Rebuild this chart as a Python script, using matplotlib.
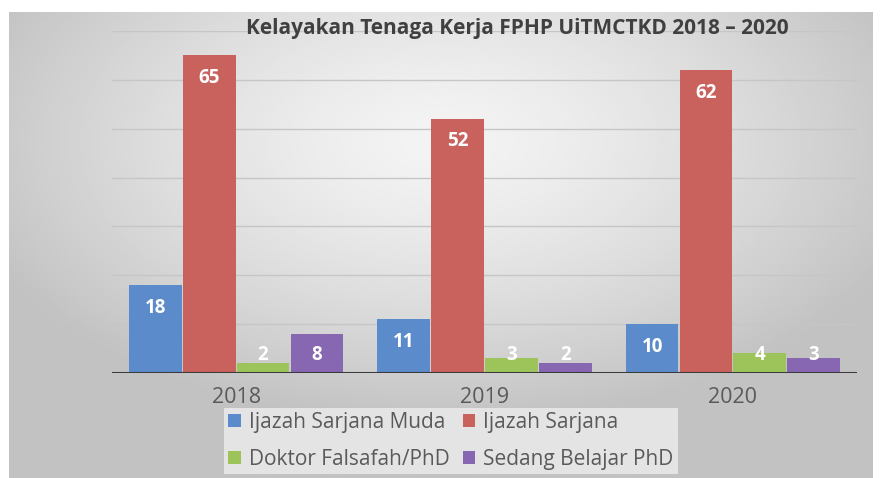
import matplotlib.pyplot as plt
import numpy as np
from matplotlib.patches import Patch

years = ["2018", "2019", "2020"]
series_names = [
    "Ijazah Sarjana Muda",
    "Ijazah Sarjana",
    "Doktor Falsafah/PhD",
    "Sedang Belajar PhD",
]
sarjana_muda = [18, 11, 10]
sarjana = [65, 52, 62]
phd = [2, 3, 4]
belajar_phd = [8, 2, 3]

colors = ["#5b8bcb", "#c9615d", "#9cc45a", "#8766b2"]
title = "Kelayakan Tenaga Kerja FPHP UiTMCTKD 2018 \u2013 2020"

plt.rcParams["font.family"] = ["Open Sans", "DejaVu Sans"]

fig = plt.figure(figsize=(8.81, 4.78), dpi=100)
fig.patch.set_facecolor("white")

# gradient panel behind the chart
bg = fig.add_axes([9 / 881, 0, 864 / 881, 466 / 478])
bg.set_axis_off()
yy, xx = np.mgrid[-1:1:200j, -1:1:300j]
dist = np.sqrt((xx * 0.95) ** 2 + ((yy + 0.45) * 0.9) ** 2)
shade = np.clip(0.955 - 0.17 * dist ** 1.4, 0.76, 1.0)
bg.imshow(shade, cmap="gray", vmin=0, vmax=1, aspect="auto",
          extent=[0, 1, 0, 1], origin="upper")
bg.set_xlim(0, 1)
bg.set_ylim(0, 1)

ax = fig.add_axes([112 / 881, 1 - 373 / 478, 745 / 881, 342 / 478])
ax.patch.set_alpha(0)

x = np.arange(len(years))
width = 0.212
step = 0.2166
all_values = [sarjana_muda, sarjana, phd, belajar_phd]

for i, (vals, color, name) in enumerate(zip(all_values, colors, series_names)):
    pos = x + (i - 1.5) * step
    bars = ax.bar(pos, vals, width, color=color, label=name, zorder=3)
    for bar, v in zip(bars, vals):
        ax.text(
            bar.get_x() + bar.get_width() / 2,
            max(v - 4.6, 3.7),
            str(v),
            ha="center",
            va="center",
            color="white",
            fontsize=13.5,
            fontweight="bold",
            zorder=4,
        )

ax.set_xlim(-0.5, 2.5)
ax.set_ylim(0, 70)
ax.set_yticks(range(10, 71, 10))
ax.yaxis.grid(True, color="#c6c6c6", linewidth=1, zorder=0)
ax.tick_params(axis="y", left=False, labelleft=False)
ax.axhline(0, color="#3a3a3a", linewidth=2.2, zorder=5)
for side in ["top", "right", "left", "bottom"]:
    ax.spines[side].set_visible(False)

ax.set_xticks(x)
ax.set_xticklabels(years, fontsize=15.5, color="#5a5a5a")
ax.tick_params(axis="x", length=0, pad=10)

fig.text(0.587, 0.941, title, ha="center", va="center",
         fontsize=15, fontweight="bold", color="#404040")

# legend fills row by row in the reference
order = [0, 2, 1, 3]
handles = [Patch(facecolor=colors[i], edgecolor="none") for i in order]
labels = [series_names[i] for i in order]
leg = fig.legend(
    handles,
    labels,
    loc="center",
    bbox_to_anchor=(0.512, 0.078),
    ncol=2,
    frameon=True,
    fancybox=False,
    facecolor="#e4e4e4",
    edgecolor="none",
    framealpha=1,
    fontsize=15,
    handlelength=0.6,
    handleheight=0.6,
    handletextpad=0.4,
    columnspacing=0.6,
    labelspacing=0.75,
    borderpad=0.2,
)
for t in leg.get_texts():
    t.set_color("#5a5a5a")

plt.savefig("out.png", dpi=100)
plt.close()
